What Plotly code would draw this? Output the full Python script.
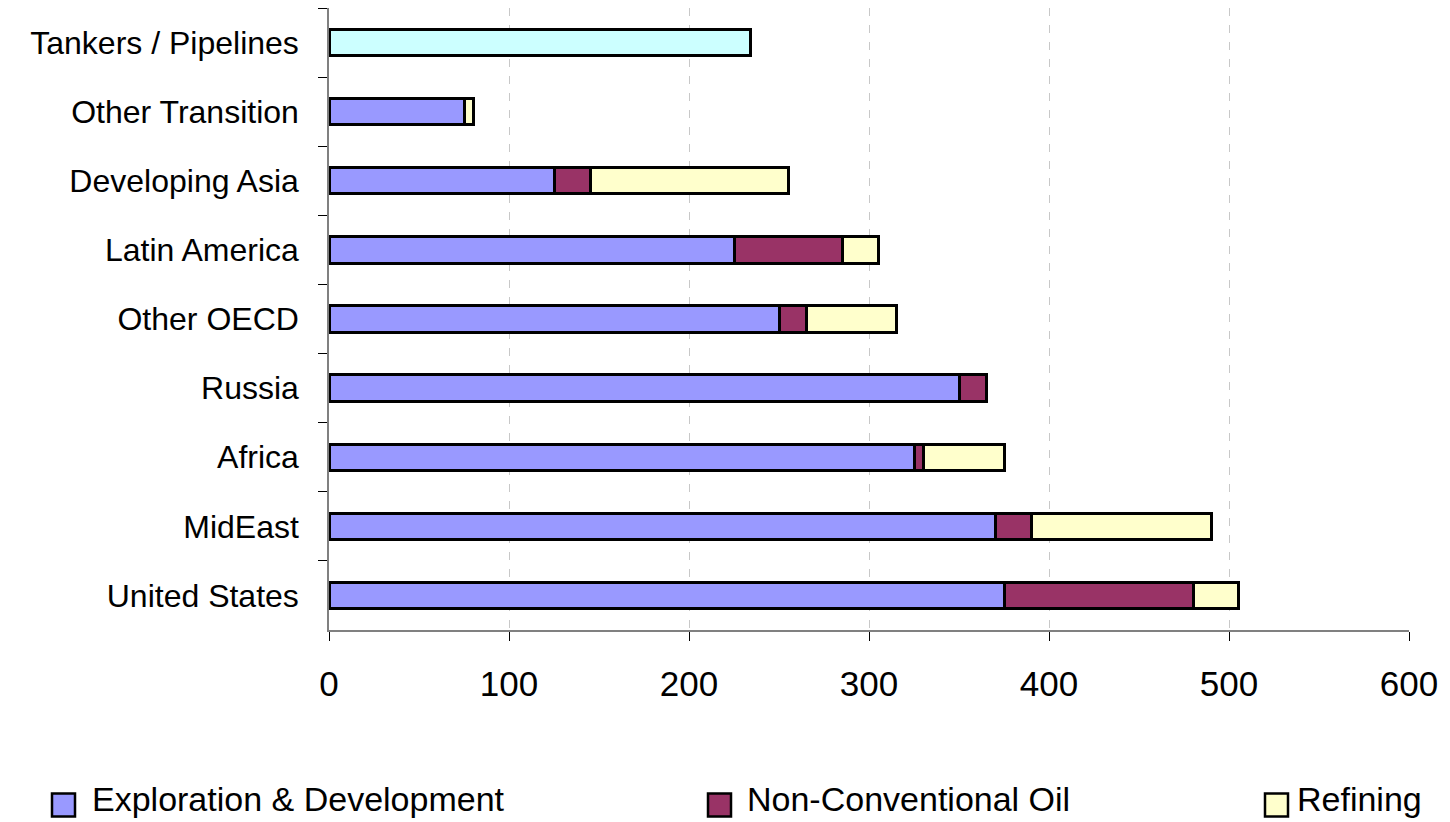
import plotly.graph_objects as go

# Investment by region, stacked by segment
categories = [
    "Tankers / Pipelines",
    "Other Transition",
    "Developing Asia",
    "Latin America",
    "Other OECD",
    "Russia",
    "Africa",
    "MidEast",
    "United States",
]
exploration = [None, 75, 125, 225, 250, 350, 325, 370, 375]
non_conventional = [None, None, 20, 60, 15, 15, 5, 20, 105]
refining = [None, 5, 110, 20, 50, None, 45, 100, 25]
tankers = [234, None, None, None, None, None, None, None, None]

series_names = ["Exploration & Development", "Non-Conventional Oil", "Refining"]
series_colors = ["#9999FF", "#993366", "#FFFFCC"]
tanker_color = "#CCFFFF"
x_ticks = [0, 100, 200, 300, 400, 500, 600]

FONT = "Arial, Liberation Sans, sans-serif"
W, H = 1450, 822
L, R, T, B = 329, 41, 8, 192

fig = go.Figure()
for name, vals, col in zip(series_names, [exploration, non_conventional, refining], series_colors):
    fig.add_trace(go.Bar(
        y=categories, x=vals, name=name, orientation="h",
        marker=dict(color=col, line=dict(color="black", width=3)),
        showlegend=False,
    ))
fig.add_trace(go.Bar(
    y=categories, x=tankers, name="Tankers / Pipelines", orientation="h",
    marker=dict(color=tanker_color, line=dict(color="black", width=3)),
    showlegend=False,
))

# pixel -> paper helpers for the hand-drawn legend
pw, ph = W - L - R, H - T - B
def px(x):
    return (x - L) / pw
def py(y):
    return (H - B - y) / ph

legend_x = [52, 708, 1265]
text_x = [90, 745, 1295]
ly = 805
shapes = []
annotations = []
for name, col, mx, tx in zip(series_names, series_colors, legend_x, text_x):
    shapes.append(dict(type="rect", xref="paper", yref="paper",
                       x0=px(mx), x1=px(mx + 23), y0=py(ly + 11.5), y1=py(ly - 11.5),
                       fillcolor=col, line=dict(color="black", width=2.5)))
    annotations.append(dict(xref="paper", yref="paper", x=px(tx), y=py(ly - 6),
                            xanchor="left", yanchor="middle", showarrow=False,
                            text=name, font=dict(family=FONT, size=34, color="black")))

fig.update_layout(
    width=W, height=H,
    margin=dict(l=L, r=R, t=T, b=B, pad=0),
    paper_bgcolor="white", plot_bgcolor="white",
    barmode="stack", bargap=0.62,
    font=dict(family=FONT, color="black"),
    shapes=shapes, annotations=annotations,
    xaxis=dict(
        range=[0, 600], tickvals=x_ticks, ticktext=[str(v) for v in x_ticks],
        showgrid=True, gridcolor="#C8C8C8", gridwidth=1, griddash="8px,9px",
        showline=True, linecolor="#808080", linewidth=1.5,
        ticks="outside", ticklen=9, tickcolor="black", tickwidth=1,
        tickfont=dict(family=FONT, size=35), ticklabelstandoff=13,
        zeroline=False, fixedrange=True,
    ),
    yaxis=dict(
        categoryorder="array", categoryarray=categories, autorange="reversed",
        showgrid=False, showline=True, linecolor="#808080", linewidth=1.5,
        ticks="outside", ticklen=9, tickcolor="black", tickwidth=1,
        tickson="boundaries", tickfont=dict(family=FONT, size=32),
        ticklabelstandoff=22, zeroline=False, fixedrange=True,
    ),
)

fig.write_html("out.html")
